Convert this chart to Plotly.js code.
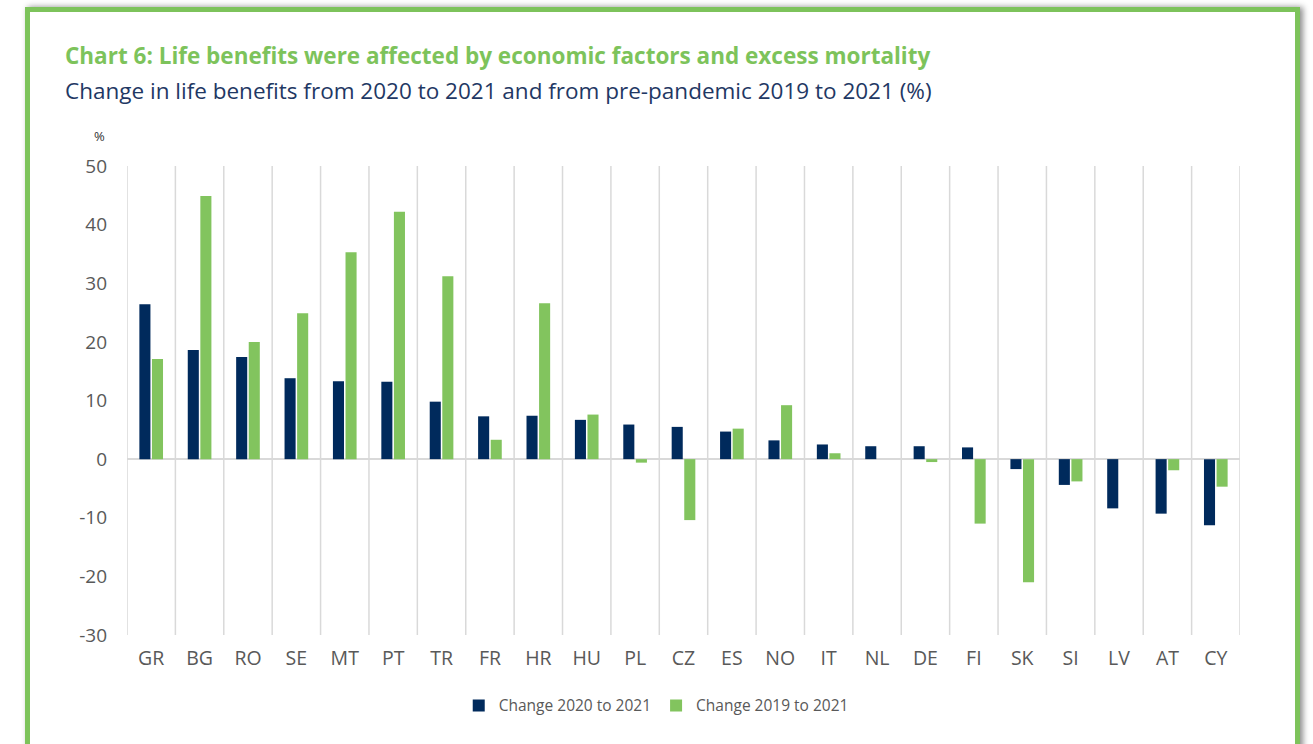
<!DOCTYPE html>
<html>
<head>
<meta charset="utf-8">
<script src="https://cdn.plot.ly/plotly-3.0.1.min.js"></script>
<style>
  html, body { margin: 0; padding: 0; background: #fff; }
  #frame {
    position: absolute; left: 25px; top: 7px; width: 1265px; height: 750px;
    border: 5px solid #7dc35b; box-shadow: 3px 0 6px rgba(0,0,0,0.45);
    background: #fff;
  }
  #chart { position: absolute; left: 0; top: 0; width: 1313px; height: 744px; }
</style>
</head>
<body>
<div id="frame"></div>
<div id="chart"></div>
<script>
// countries, in the order of the chart
var countries = ["GR","BG","RO","SE","MT","PT","TR","FR","HR","HU","PL","CZ",
                 "ES","NO","IT","NL","DE","FI","SK","SI","LV","AT","CY"];
// change 2020 to 2021 (%)
var change2020 = [26.4, 18.6, 17.4, 13.8, 13.3, 13.2, 9.8, 7.3, 7.4, 6.7, 5.9, 5.5,
                  4.7, 3.2, 2.5, 2.2, 2.2, 2.0, -1.7, -4.4, -8.4, -9.3, -11.3];
// change 2019 to 2021 (%)
var change2019 = [17.1, 44.9, 20.0, 24.9, 35.3, 42.2, 31.2, 3.3, 26.6, 7.6, -0.6, -10.4,
                  5.2, 9.2, 1.0, 0, -0.5, -11.0, -21.0, -3.8, 0, -1.9, -4.7];
var yTicks = [-30, -20, -10, 0, 10, 20, 30, 40, 50];
var yTickText = ["-30", "-20", "-10", "0", "10", "20", "30", "40", "50"];

var navy = "#002a5c";
var green = "#82c45e";
var grey = "#595959";

var trace1 = {
  x: countries,
  y: change2020,
  type: "bar",
  name: "Change 2020 to 2021",
  marker: { color: navy }
};
var trace2 = {
  x: countries,
  y: change2019,
  type: "bar",
  name: "Change 2019 to 2021",
  marker: { color: green }
};

// vertical separators between categories
var shapes = [];
for (var i = 0; i <= countries.length; i++) {
  shapes.push({
    type: "line", xref: "x", yref: "paper",
    x0: i - 0.5, x1: i - 0.5, y0: 0, y1: 1,
    line: { color: "#d9d9d9", width: 1.5 },
    layer: "below"
  });
}

var layout = {
  width: 1313,
  height: 744,
  paper_bgcolor: "rgba(0,0,0,0)",
  plot_bgcolor: "rgba(0,0,0,0)",
  font: { family: "Open Sans, sans-serif", color: grey },
  margin: { l: 127, r: 73, t: 166, b: 109 },
  barmode: "group",
  bargap: 0.48,
  bargroupgap: 0.12,
  showlegend: true,
  legend: {
    orientation: "h",
    x: 0.4755, xanchor: "center",
    y: -0.151, yanchor: "middle",
    font: { size: 15.5, color: grey },
    itemwidth: 30
  },
  xaxis: {
    type: "category",
    range: [-0.5, countries.length - 0.5],
    showgrid: false,
    showline: false,
    ticks: "",
    ticklabelstandoff: 9,
    tickfont: { size: 19.5, color: grey }
  },
  yaxis: {
    range: [-30, 50],
    tickmode: "array",
    tickvals: yTicks,
    ticktext: yTickText,
    showgrid: false,
    zeroline: true,
    zerolinecolor: "#d9d9d9",
    zerolinewidth: 2,
    ticks: "",
    ticklabelstandoff: 19,
    tickfont: { size: 19, color: grey }
  },
  shapes: shapes,
  annotations: [
    {
      text: "<b>Chart 6: Life benefits were affected by economic factors and excess mortality</b>",
      xref: "paper", yref: "paper", x: -0.0575, y: 1.235,
      xanchor: "left", yanchor: "middle", showarrow: false,
      font: { size: 22.5, color: "#7dc35b" }
    },
    {
      text: "Change in life benefits from 2020 to 2021 and from pre-pandemic 2019 to 2021 (%)",
      xref: "paper", yref: "paper", x: -0.0575, y: 1.16,
      xanchor: "left", yanchor: "middle", showarrow: false,
      font: { size: 22.5, color: "#1f3864" }
    },
    {
      text: "%",
      xref: "paper", yref: "paper", x: -0.0245, y: 1.065,
      xanchor: "center", yanchor: "middle", showarrow: false,
      font: { size: 13, color: "#333" }
    }
  ]
};

Plotly.newPlot("chart", [trace1, trace2], layout, { displayModeBar: false });
</script>
</body>
</html>
